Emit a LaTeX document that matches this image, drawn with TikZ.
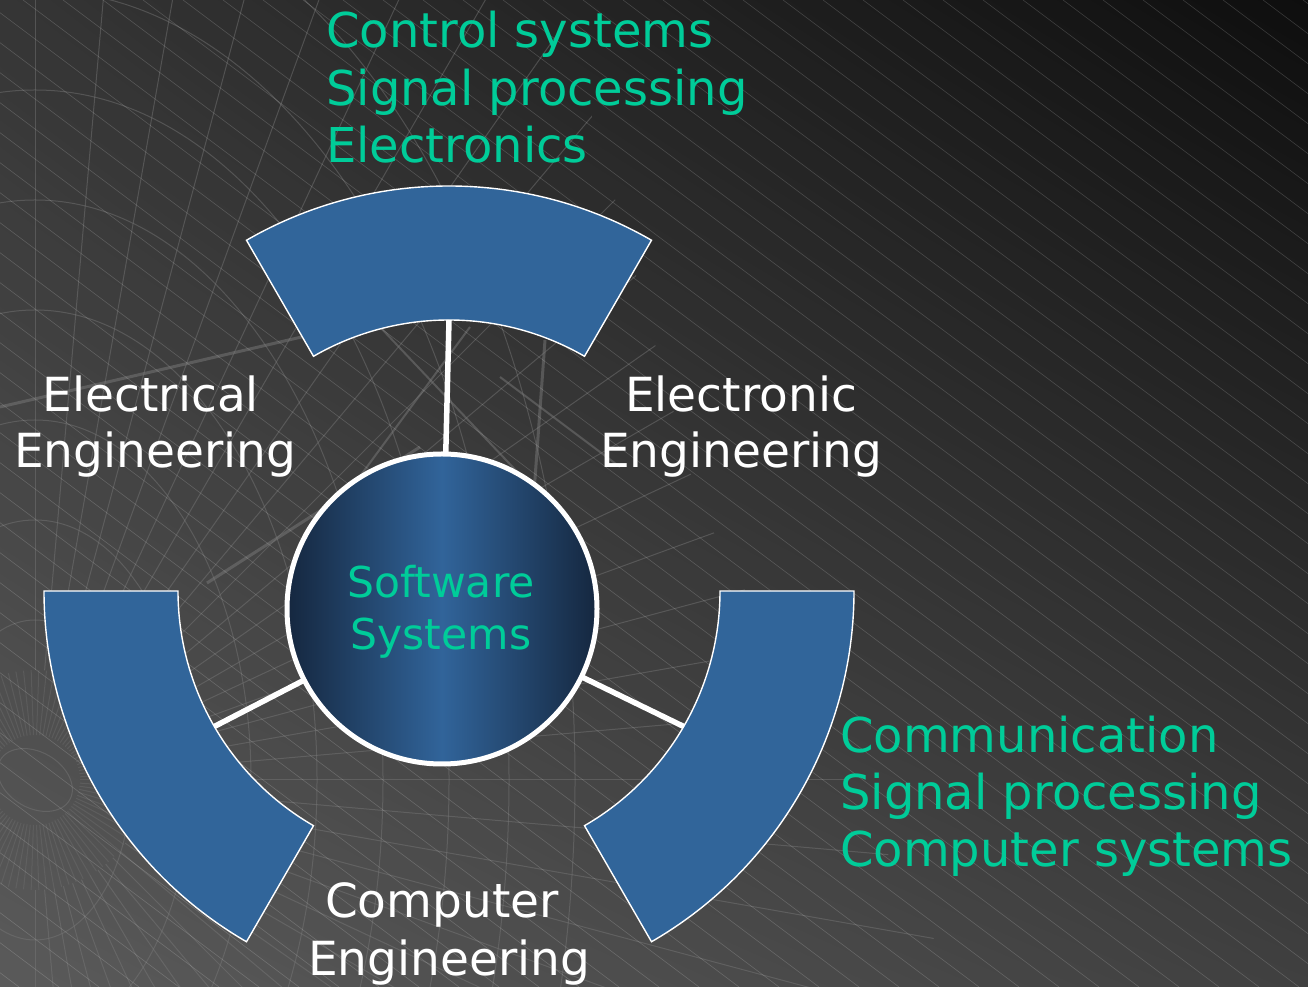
\documentclass[tikz,border=0pt]{standalone}
\usepackage{fontspec}
\setmainfont{DejaVu Sans}
\usetikzlibrary{shadings}
\definecolor{bgUL}{HTML}{353535}
\definecolor{bgUR}{HTML}{0E0E0E}
\definecolor{bgLL}{HTML}{5A5A5A}
\definecolor{bgLR}{HTML}{404040}
\definecolor{arcblue}{HTML}{31659A}
\definecolor{cdark}{HTML}{15273F}
\definecolor{clight}{HTML}{31649A}
\definecolor{tgreen}{RGB}{0,204,153}
\definecolor{gridc}{HTML}{7A7A7A}
\begin{document}
\begin{tikzpicture}[x=1pt,y=1pt,
  arcseg/.style={fill=arcblue, draw=white, line width=1.4pt, line join=miter},
  link/.style={draw=white, line width=5.5pt},
  hatch/.style={draw=white, opacity=0.17, line width=0.6pt},
  gridline/.style={draw=gridc, opacity=0.45, line width=1pt},
  gridthick/.style={draw=gridc, opacity=0.5, line width=3pt},
  greentext/.style={text=tgreen, font=\fontsize{48}{56}\selectfont, anchor=base west, inner sep=0pt},
  wlabel/.style={text=white, font=\fontsize{47}{56}\selectfont, anchor=base, inner sep=0pt},
  ctext/.style={text=tgreen, font=\fontsize{42.5}{50}\selectfont, anchor=base, inner sep=0pt}]
\useasboundingbox (0,0) rectangle (1308,987);
% background
\shade[upper left=bgUL, upper right=bgUR, lower left=bgLL, lower right=bgLR] (0,0) rectangle (1308,987);
\begin{scope}
  \clip (0,0) -- (960,0) -- (700,480) -- (560,987) -- (0,987) -- cycle;
  % perspective grid
  \begin{scope}[shift={(35,207)}]
    \foreach \a in {-90,-85,...,90} \draw[gridline] (\a:110) -- (\a:1000);
    \foreach \a in {0,4,...,356} \draw[gridline, opacity=0.3] (\a:45) -- (\a:110);
    \draw[gridline] (0,0) ellipse[x radius=40, y radius=28, rotate=-30];
    \foreach \r in {160,260,360,470,580,690,790,900} \draw[gridline] (0,0) ellipse[x radius=0.6*\r, y radius=\r];
  \end{scope}
  \draw[gridthick] (0,580) -- (560,710);
  \draw[gridthick] (207,404) -- (420,540);
  \draw[gridthick] (545,647) -- (520,300);
  \draw[gridthick, line width=2pt] (470,660) -- (330,470);
  \draw[gridthick, line width=2pt] (500,610) -- (620,520);
  \draw[gridthick, line width=2pt] (380,660) -- (560,470);
\end{scope}
\begin{scope}
  \clip (0,0) rectangle (1308,987);
  % hatch
  \foreach \i in {-33,...,33} \draw[hatch] (23+40*\i,987) -- ++(1316,-987);
\end{scope}
% arc segments
\coordinate (ac) at (449,396);
\path[arcseg] ([shift={(60:405)}]ac) arc[start angle=60, end angle=120, radius=405]
  -- ([shift={(120:271)}]ac) arc[start angle=120, end angle=60, radius=271] -- cycle;
\path[arcseg] ([shift={(180:405)}]ac) arc[start angle=180, end angle=240, radius=405]
  -- ([shift={(240:271)}]ac) arc[start angle=240, end angle=180, radius=271] -- cycle;
\path[arcseg] ([shift={(300:405)}]ac) arc[start angle=300, end angle=360, radius=405]
  -- ([shift={(360:271)}]ac) arc[start angle=360, end angle=300, radius=271] -- cycle;
\coordinate (pt) at ([shift={(90:271)}]ac);
\coordinate (pl) at ([shift={(210:271)}]ac);
\coordinate (pr) at ([shift={(330:271)}]ac);
% connectors
\coordinate (sc) at (442,378);
\draw[link] (pt) -- (sc);
\draw[link] (pl) -- (sc);
\draw[link] (pr) -- (sc);
% centre circle
\node[circle, draw=white, line width=5pt, minimum size=310pt, inner sep=0pt,
  left color=cdark, right color=cdark, middle color=clight] (sw) at (sc) {};
\node[ctext] (sw1) at (441,389) {Software};
\node[ctext] (sw2) at (441,337) {Systems};
% labels
\node[greentext] (g1) at (326,939) {Control systems};
\node[greentext] (g2) at (326,881) {Signal processing};
\node[greentext] (g3) at (326,824) {Electronics};
\node[greentext] (h1) at (840,234) {Communication};
\node[greentext] (h2) at (840,177) {Signal processing};
\node[greentext] (h3) at (840,120) {Computer systems};
\node[wlabel] (l1) at (151,575) {Electrical};
\node[wlabel] (l2) at (155,519) {Engineering};
\node[wlabel] (r1) at (741,575) {Electronic};
\node[wlabel] (r2) at (741,519) {Engineering};
\node[wlabel] (b1) at (442,69) {Computer};
\node[wlabel] (b2) at (449,12) {Engineering};
\end{tikzpicture}
\end{document}
